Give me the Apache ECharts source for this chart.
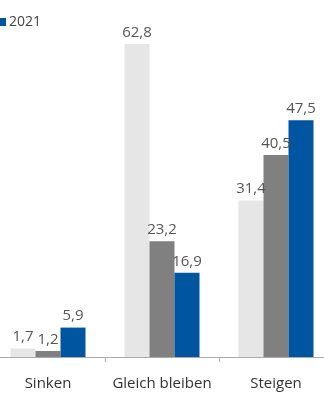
<!DOCTYPE html>
<html><head><meta charset="utf-8">
<script src="https://cdn.jsdelivr.net/npm/echarts@6/dist/echarts.min.js"></script>
<style>html,body{margin:0;padding:0;background:#fff;overflow:hidden}#c{width:342px;height:400px;margin-left:-9px}</style>
</head><body><div id="c"></div>
<script>
const categories = ['Sinken', 'Gleich bleiben', 'Steigen'];
const seriesNames = ['2019', '2020', '2021'];
const values2019 = [1.7, 62.8, 31.4];
const values2020 = [1.2, 23.2, 40.5];
const values2021 = [5.9, 16.9, 47.5];
const colors = ['#e6e6e6', '#808080', '#0055a0'];
const allValues = [values2019, values2020, values2021];
const fontFam = '"Open Sans", "Noto Sans", sans-serif';
const chart = echarts.init(document.getElementById('c'));
chart.setOption({
  animation: false,
  textStyle: { fontFamily: fontFam },
  legend: {
    data: ['2021'], left: 7, top: 15, padding: 0, itemWidth: 8, itemHeight: 8, itemGap: 6,
    icon: 'rect',
    textStyle: { fontSize: 14, color: '#444', fontFamily: fontFam, padding: [0, 0, 0, -2] }
  },
  grid: { left: 0, right: 0, top: 8, bottom: 43, containLabel: false },
  xAxis: {
    type: 'category', data: categories,
    axisLine: { lineStyle: { color: '#aaa', width: 1 } },
    axisTick: { show: true, inside: false, length: 5, lineStyle: { color: '#aaa' } },
    axisLabel: { fontSize: 15, color: '#333', margin: 19, interval: 0, fontFamily: fontFam }
  },
  yAxis: { type: 'value', min: 0, max: 70, show: false, splitLine: { show: false } },
  series: allValues.map((v, i) => ({
    name: seriesNames[i], type: 'bar', data: v, barWidth: 25, barGap: '0%',
    barCategoryGap: '33%',
    itemStyle: { color: colors[i] },
    label: {
      show: true, position: 'top', distance: 4, fontSize: 15, color: '#555',
      fontFamily: fontFam,
      formatter: p => String(p.value).replace('.', ',')
    }
  }))
});
</script></body></html>
